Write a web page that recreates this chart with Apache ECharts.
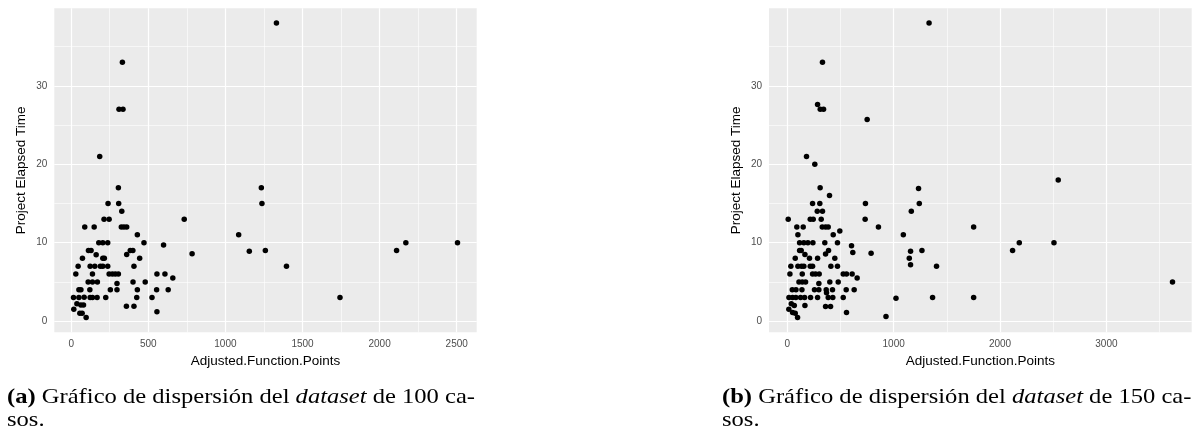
<!DOCTYPE html>
<html>
<head>
<meta charset="utf-8">
<script src="https://cdn.jsdelivr.net/npm/echarts@6/dist/echarts.min.js"></script>
<style>
  html, body { margin: 0; padding: 0; background: #ffffff; }
  #chart { width: 1201px; height: 432px; }
</style>
</head>
<body>
<div id="chart"></div>
<script>
// Dataset of 100 cases: Adjusted.Function.Points vs Project Elapsed Time
const afp100 = [17, 15, 30, 45, 37, 50, 50, 63, 63, 80, 84, 56, 71, 73, 88, 97, 110, 112, 129, 121,
  123, 123, 138, 138, 138, 153, 149, 162, 168, 170, 179, 189, 205, 205, 215, 205, 213, 224, 237, 237,
  246, 239, 246, 254, 267, 286, 306, 297, 297, 306, 308, 328, 325, 342, 360, 360, 358, 383, 400, 401,
  407, 407, 425, 429, 429, 444, 472, 480, 524, 554, 556, 556, 599, 608, 629, 659, 733, 784, 1086, 1155,
  1233, 1237, 1259, 1396, 1743, 2110, 2170, 2505, 332, 310, 336, 185, 1331];
const pet100 = [1.5, 3, 6, 7, 2.2, 3, 4, 4, 2.05, 2.05, 3.05, 1.0, 1.0, 8, 12, 0.45, 5, 9, 9, 4,
  3, 7, 6, 5, 3, 7, 12, 8.45, 3, 5, 10, 7, 10, 8, 8, 7, 13, 3, 7, 10,
  13, 15, 6, 4, 6, 6, 6, 4.8, 4, 17, 15, 14, 12, 12, 12, 8.5, 1.9, 9, 9, 5,
  7, 1.9, 3, 4, 11, 8, 10, 5, 3, 4, 6, 1.2, 9.7, 6, 4, 5.5, 13, 8.6, 11, 8.9,
  17, 15, 9, 7, 3, 9, 10, 10, 33, 27, 27, 21, 38];

// Dataset of 150 cases
const afp150 = [238, 306, 735, 282, 331, 1166, 9, 216, 244, 319, 732,
  90, 150, 329, 360, 385, 857, 1752, 494, 100, 432, 1091,
  116, 156, 194, 241, 353, 472, 2181, 2507, 604,
  116, 131, 388, 1266, 2118, 1159, 616, 788, 360, 166,
  75, 209, 285, 447, 1147,
  34, 100, 134, 156, 216, 238, 410, 472, 1403, 1159,
  25, 141, 238, 266, 300, 526, 557, 610, 657,
  110, 141, 172, 400, 479, 3621, 297,
  47, 82, 138, 256, 297, 366, 425, 554, 629, 369,
  16, 50, 81, 125, 163, 219, 285, 385, 428, 526, 1022, 1366, 1752,
  38, 66, 166, 360, 407, 15, 50, 557, 75, 97, 928,
  397, 309, 1234, 1241, 2547,
  331, 285, 310, 341, 751, 181, 259, 1333];
const pet150 = [15, 15, 15, 14, 14, 14, 13, 13, 13, 13, 13,
  12, 12, 12, 12, 12, 12, 12, 11.5, 11, 11, 11,
  10, 10, 10, 10, 10, 10, 10, 10, 9.6,
  9, 9, 9, 9, 9, 8.9, 8.75, 8.66, 8.57, 8.5,
  8, 8, 8, 8, 8,
  7, 7, 7, 7, 7, 7, 7, 7, 7, 7.2,
  6, 6, 6, 6, 6, 6, 6, 6, 5.5,
  5, 5, 5, 5, 5, 5, 4.78,
  4, 4, 4, 4, 4, 4, 4, 4, 4, 3.6,
  3, 3, 3, 3, 3, 3, 3, 3, 3, 3, 2.9, 3, 3,
  2.2, 2.0, 2.0, 1.85, 1.85, 1.5, 1.1, 1.1, 1.0, 0.45, 0.6,
  16, 17, 16.9, 15, 18,
  33, 27.6, 27, 27, 25.7, 21, 20, 38];

// Break values for axes and panel grid
const xBreaks100 = [0, 500, 1000, 1500, 2000, 2500];
const xMinor100 = [250, 750, 1250, 1750, 2250];
const xBreaks150 = [0, 1000, 2000, 3000];
const xMinor150 = [500, 1500, 2500, 3500];
const yBreaks = [0, 10, 20, 30];
const yMinor = [5, 15, 25, 35];

const xTitle = 'Adjusted.Function.Points';
const yTitle = 'Project Elapsed Time';

const SANS = '"Liberation Sans", Arial, sans-serif';
const SERIF = '"Liberation Serif", "DejaVu Serif", serif';

const pairs = (xs, ys) => xs.map((x, i) => [x, ys[i]]);
// 5% padding on each side of the data range
const padMin = v => v.min - 0.05 * (v.max - v.min);
const padMax = v => v.max + 0.05 * (v.max - v.min);
const plain = v => String(v);

function xAxisFor(gridIndex, breaks) {
  return {
    type: 'value', gridIndex, min: padMin, max: padMax,
    name: xTitle, nameLocation: 'middle', nameGap: 21,
    nameTextStyle: { color: '#000000', fontSize: 13.5, fontFamily: SANS },
    axisLine: { show: false },
    splitLine: { show: false },
    axisTick: { show: true, length: 4, lineStyle: { color: '#333333', width: 1 }, customValues: breaks },
    axisLabel: { customValues: breaks, formatter: plain, color: '#4D4D4D', fontSize: 10, margin: 7, fontFamily: SANS }
  };
}

function yAxisFor(gridIndex) {
  return {
    type: 'value', gridIndex, min: padMin, max: padMax,
    name: yTitle, nameLocation: 'middle', nameGap: 26, nameRotate: 90,
    nameTextStyle: { color: '#000000', fontSize: 13.5, fontFamily: SANS },
    axisLine: { show: false },
    splitLine: { show: false },
    axisTick: { show: true, length: 4, lineStyle: { color: '#333333', width: 1 }, customValues: yBreaks },
    axisLabel: { customValues: yBreaks, formatter: plain, color: '#4D4D4D', fontSize: 10, margin: 7, fontFamily: SANS }
  };
}

// White major/minor grid lines on the grey panel, kept beneath the points
function panelGrid(index, xMajor, xMinor) {
  const major = { color: '#ffffff', width: 1.2, type: 'solid' };
  const minor = { color: '#ffffff', width: 0.6, type: 'solid' };
  const lines = [
    ...xMinor.map(v => ({ xAxis: v, lineStyle: minor })),
    ...yMinor.map(v => ({ yAxis: v, lineStyle: minor })),
    ...xMajor.map(v => ({ xAxis: v, lineStyle: major })),
    ...yBreaks.map(v => ({ yAxis: v, lineStyle: major }))
  ];
  return {
    type: 'scatter', xAxisIndex: index, yAxisIndex: index, data: [], z: 1, silent: true,
    markLine: {
      z: 1, silent: true, animation: false, symbol: ['none', 'none'],
      label: { show: false }, emphasis: { disabled: true }, data: lines
    }
  };
}

function points(index, xs, ys) {
  return {
    type: 'scatter', xAxisIndex: index, yAxisIndex: index, z: 10,
    data: pairs(xs, ys), symbolSize: 5.5,
    itemStyle: { color: '#000000', opacity: 1 },
    emphasis: { disabled: true }, animation: false
  };
}

function caption(x, tag, n) {
  const fs = 21;
  const sx = 1.17;
  return [
    {
      type: 'text', x: x, y: 387, scaleX: sx, silent: true,
      style: {
        text: '{b|(' + tag + ')} Gráfico de dispersión del {i|dataset} de ' + n + ' ca-',
        fontFamily: SERIF, fontSize: fs, fill: '#000000',
        rich: {
          b: { fontFamily: SERIF, fontSize: fs, fontWeight: 'bold' },
          i: { fontFamily: SERIF, fontSize: fs, fontStyle: 'italic' }
        }
      }
    },
    {
      type: 'text', x: x, y: 410, scaleX: sx, silent: true,
      style: { text: 'sos.', fontFamily: SERIF, fontSize: fs, fill: '#000000' }
    }
  ];
}

const chart = echarts.init(document.getElementById('chart'), null, { renderer: 'canvas' });
chart.setOption({
  animation: false,
  backgroundColor: '#ffffff',
  grid: [
    { left: 54.3, top: 8.3, width: 422.4, height: 324, show: true, backgroundColor: '#EBEBEB', borderWidth: 0 },
    { left: 769, top: 8.3, width: 422.7, height: 324, show: true, backgroundColor: '#EBEBEB', borderWidth: 0 }
  ],
  xAxis: [xAxisFor(0, xBreaks100), xAxisFor(1, xBreaks150)],
  yAxis: [yAxisFor(0), yAxisFor(1)],
  series: [
    panelGrid(0, xBreaks100, xMinor100),
    panelGrid(1, xBreaks150, xMinor150),
    points(0, afp100, pet100),
    points(1, afp150, pet150)
  ],
  graphic: [...caption(7, 'a', 100), ...caption(722, 'b', 150)]
});
</script>
</body>
</html>
